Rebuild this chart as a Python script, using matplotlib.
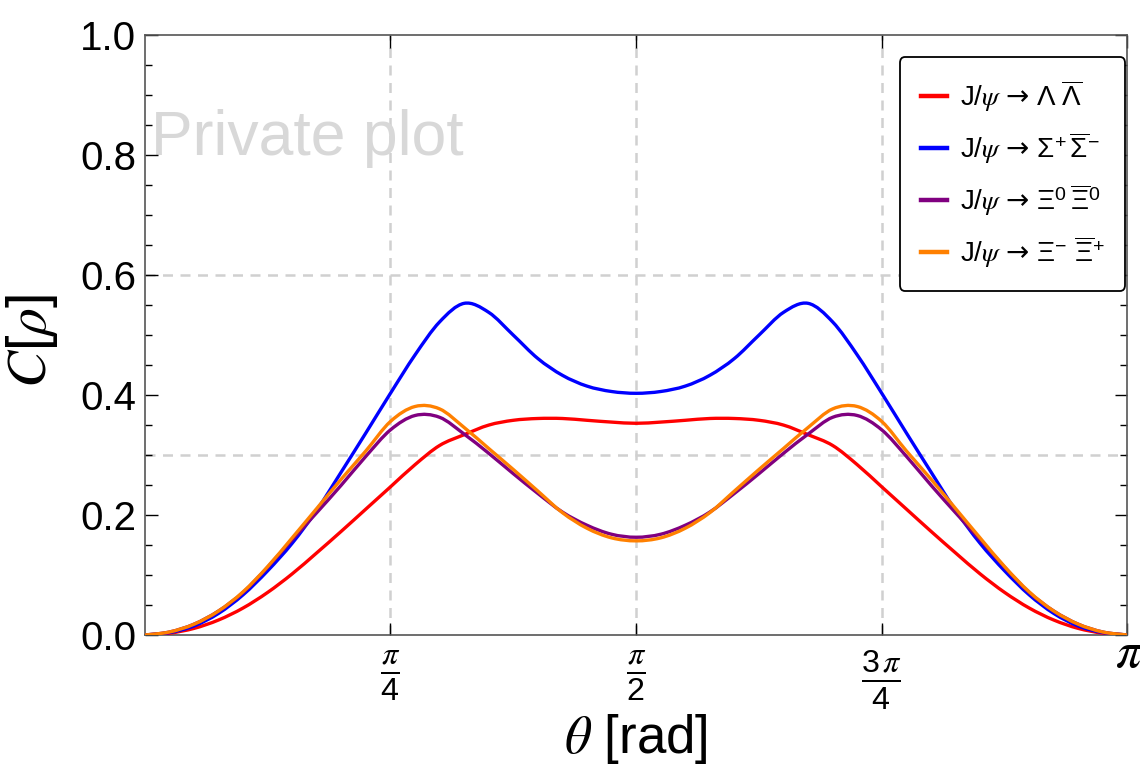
import numpy as np
import matplotlib
matplotlib.use("Agg")
import matplotlib.pyplot as plt
from matplotlib.path import Path
from matplotlib.patches import PathPatch
from matplotlib.lines import Line2D

# theta in units of pi/40
theta_steps = np.arange(41)

lam = [0.0, 0.003, 0.011, 0.025, 0.045, 0.071, 0.102, 0.137, 0.173, 0.210, 0.247,
       0.284, 0.316, 0.334, 0.350, 0.358, 0.361, 0.361, 0.358, 0.355, 0.353,
       0.355, 0.358, 0.361, 0.361, 0.358, 0.350, 0.334, 0.316, 0.284, 0.247,
       0.210, 0.173, 0.137, 0.102, 0.071, 0.045, 0.025, 0.011, 0.003, 0.0]
sig = [0.0, 0.004, 0.015, 0.036, 0.067, 0.107, 0.153, 0.208, 0.272, 0.337, 0.403,
       0.467, 0.522, 0.553, 0.538, 0.500, 0.461, 0.433, 0.415, 0.406, 0.403,
       0.406, 0.415, 0.433, 0.461, 0.500, 0.538, 0.553, 0.522, 0.467, 0.403,
       0.337, 0.272, 0.208, 0.153, 0.107, 0.067, 0.036, 0.015, 0.004, 0.0]
xi0 = [0.0, 0.005, 0.018, 0.040, 0.071, 0.113, 0.159, 0.204, 0.250, 0.298, 0.342,
       0.366, 0.363, 0.335, 0.303, 0.269, 0.236, 0.205, 0.183, 0.168, 0.163,
       0.168, 0.183, 0.205, 0.236, 0.269, 0.303, 0.335, 0.363, 0.366, 0.342,
       0.298, 0.250, 0.204, 0.159, 0.113, 0.071, 0.040, 0.018, 0.005, 0.0]
xim = [0.0, 0.005, 0.018, 0.040, 0.072, 0.114, 0.162, 0.211, 0.260, 0.307, 0.356,
       0.381, 0.377, 0.346, 0.311, 0.276, 0.240, 0.204, 0.178, 0.162, 0.157,
       0.162, 0.178, 0.204, 0.240, 0.276, 0.311, 0.346, 0.377, 0.381, 0.356,
       0.307, 0.260, 0.211, 0.162, 0.114, 0.072, 0.040, 0.018, 0.005, 0.0]

labels = [r'J/$\psi$ $\mathsf{→}$ $\Lambda\ \overline{\Lambda}$',
          r'J/$\psi$ $\mathsf{→}$ $\Sigma^{+}\,\overline{\Sigma}^{-}$',
          r'J/$\psi$ $\mathsf{→}$ $\Xi^{0}\,\overline{\Xi}^{0}$',
          r'J/$\psi$ $\mathsf{→}$ $\Xi^{-}\ \overline{\Xi}^{+}$']
colors = ['#ff0000', '#0000ff', '#800080', '#ff8000']

plt.rcParams['font.family'] = ['Liberation Sans', 'DejaVu Sans']
plt.rcParams['mathtext.fontset'] = 'custom'
plt.rcParams['mathtext.rm'] = 'Liberation Sans'
plt.rcParams['mathtext.it'] = 'STIXGeneral:italic'
plt.rcParams['mathtext.bf'] = 'Liberation Sans:bold'
plt.rcParams['mathtext.cal'] = 'STIXGeneral:italic'
plt.rcParams['mathtext.sf'] = 'DejaVu Sans'


def smooth_path(x, y):
    # Catmull-Rom through the read points, drawn as cubic Bezier segments
    p = np.column_stack([x, y])
    verts = [p[0]]
    codes = [Path.MOVETO]
    n = len(p)
    for i in range(n - 1):
        p0 = p[i - 1] if i > 0 else p[i]
        p3 = p[i + 2] if i + 2 < n else p[i + 1]
        c1 = p[i] + (p[i + 1] - p0) / 6
        c2 = p[i + 1] - (p3 - p[i]) / 6
        verts += [c1, c2, p[i + 1]]
        codes += [Path.CURVE4] * 3
    return Path(verts, codes)


fig = plt.figure(figsize=(11.4, 7.66), dpi=100)
ax = fig.add_axes([0.127, 0.171, 0.862, 0.783])

theta = theta_steps * np.pi / 40
handles = []
for y, c, lab in zip([lam, sig, xi0, xim], colors, labels):
    ax.add_patch(PathPatch(smooth_path(theta, y), fill=False, edgecolor=c,
                           lw=2.4, capstyle='round', joinstyle='round', zorder=3))
    handles.append(Line2D([], [], color=c, lw=3.2, label=lab))

for xv in [np.pi / 4, np.pi / 2, 3 * np.pi / 4]:
    ax.axvline(xv, color='#d0d0d0', lw=1.8, ls=(0, (4, 3)), zorder=0)
for yv in [0.3, 0.6]:
    ax.axhline(yv, color='#d0d0d0', lw=1.8, ls=(0, (4, 3)), zorder=0)

ax.set_xlim(0, np.pi)
ax.set_ylim(0, 1.0)
ax.set_xticks([np.pi / 4, np.pi / 2, 3 * np.pi / 4, np.pi])
ax.set_xticklabels([r'$\frac{\pi}{4}$', r'$\frac{\pi}{2}$', r'$\frac{3\,\pi}{4}$', 'π'])
ax.set_yticks([0.0, 0.2, 0.4, 0.6, 0.8, 1.0])
ax.set_yticks(np.arange(0, 1.0001, 0.05), minor=True)
ax.tick_params(axis='y', which='major', labelsize=29, direction='in', length=9,
               width=1, right=True, pad=6)
ax.tick_params(axis='y', which='minor', direction='in', length=5, width=1, right=True)
ax.tick_params(axis='x', which='major', labelsize=33, direction='in', length=9,
               width=1, top=True, pad=10)
pi_lab = ax.get_xticklabels()[-1]
pi_lab.set_fontfamily('STIXGeneral')
pi_lab.set_fontstyle('italic')
pi_lab.set_fontsize(37)
pi_lab.set_verticalalignment('center_baseline')
pi_lab.set_horizontalalignment('center')
for s in ax.spines.values():
    s.set_color('#555555')
    s.set_linewidth(1.2)

ax.set_ylabel(r'$\mathcal{C}[\rho]$', fontsize=40)
ax.yaxis.set_label_coords(-0.086, 0.49)
ax.set_xlabel(r'$\theta$ [rad]', fontsize=38, labelpad=0)

ax.text(0.02, 0.8, 'Private plot', fontsize=45, color='#d8d8d8', zorder=0)

leg = ax.legend(handles=handles, loc='upper right', bbox_to_anchor=(0.998, 0.963),
                borderaxespad=0, fontsize=20, handlelength=0.95, handletextpad=0.45,
                labelspacing=0.58, borderpad=0.75, frameon=True, fancybox=True,
                framealpha=1)
leg.get_frame().set_edgecolor('black')
leg.get_frame().set_linewidth(1.3)

fig.savefig('out.png', dpi=100)
